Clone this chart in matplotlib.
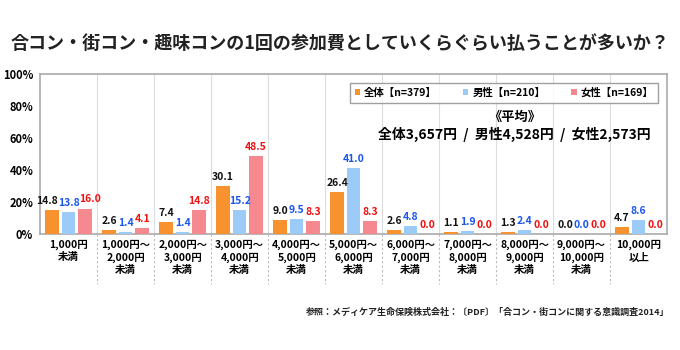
import numpy as np
import matplotlib.pyplot as plt
import matplotlib.transforms as mtransforms

plt.rcParams['font.family'] = ['Noto Sans CJK JP', 'DejaVu Sans']

# data
categories = ['1,000円\n未満', '1,000円～\n2,000円\n未満', '2,000円～\n3,000円\n未満',
              '3,000円～\n4,000円\n未満', '4,000円～\n5,000円\n未満', '5,000円～\n6,000円\n未満',
              '6,000円～\n7,000円\n未満', '7,000円～\n8,000円\n未満', '8,000円～\n9,000円\n未満',
              '9,000円～\n10,000円\n未満', '10,000円\n以上']
total = [14.8, 2.6, 7.4, 30.1, 9.0, 26.4, 2.6, 1.1, 1.3, 0.0, 4.7]
male = [13.8, 1.4, 1.4, 15.2, 9.5, 41.0, 4.8, 1.9, 2.4, 0.0, 8.6]
female = [16.0, 4.1, 14.8, 48.5, 8.3, 8.3, 0.0, 0.0, 0.0, 0.0, 0.0]
series_names = ['全体【n=379】', '男性【n=210】', '女性【n=169】']

bar_colors = ['#F7922E', '#9DCBF7', '#F5898F']
text_colors = ['#111111', '#1a55f0', '#f01010']

fig = plt.figure(figsize=(6.8, 3.5), dpi=100)
ax = fig.add_axes([0.059, 0.331, 0.922, 0.458])

x = np.arange(len(categories))
w = 0.24
offs = [-0.29, 0.0, 0.29]
for k, (vals, off, c, tc, name) in enumerate(zip([total, male, female], offs, bar_colors,
                                                 text_colors, series_names)):
    bars = ax.bar(x + off, vals, width=w, color=c, label=name, zorder=3)
    for i, (b, v) in enumerate(zip(bars, vals)):
        nudge = 0.0
        # first group has three labels at nearly the same height: spread them a bit
        if i == 0:
            nudge = (k - 1) * 0.09
        ax.text(b.get_x() + b.get_width() / 2 + nudge, v + 2.5, f'{v:.1f}', ha='center',
                va='bottom', fontsize=7.5, fontweight='bold', color=tc, zorder=4)

ax.set_xlim(-0.5, len(categories) - 0.5)
ax.set_ylim(0, 100)
ax.set_yticks([0, 20, 40, 60, 80, 100])
ax.set_yticklabels([f'{t}%' for t in [0, 20, 40, 60, 80, 100]], fontsize=8, fontweight='bold')
ax.set_xticks(x)
ax.set_xticklabels(categories, fontsize=7.5, fontweight='bold', linespacing=1.25, va='top')
ax.tick_params(axis='x', length=0, pad=4)
ax.tick_params(axis='y', length=0, pad=5)

for s in ax.spines.values():
    s.set_color('#aaaaaa')
    s.set_linewidth(1.2)

# category separators
trans = mtransforms.blended_transform_factory(ax.transData, ax.transAxes)
for b in np.arange(0.5, len(categories) - 0.5, 1.0):
    ax.plot([b, b], [0, 1], color='#dddddd', lw=0.8, transform=trans, zorder=1)
for b in np.arange(0.5, len(categories) - 0.5, 1.0):
    ax.plot([b, b], [0, -0.31], color='#bbbbbb', lw=0.8, ls=(0, (2, 2)),
            transform=trans, clip_on=False)

leg = ax.legend(loc='upper right', bbox_to_anchor=(0.994, 0.975), ncol=3,
                prop={'weight': 'bold', 'size': 7.5}, handlelength=0.5, handleheight=0.5,
                columnspacing=2.5, handletextpad=0.4, fancybox=False, borderpad=0.45)
leg.get_frame().set_edgecolor('#888888')
leg.get_frame().set_linewidth(1.0)

ax.text(0.757, 0.73, '《平均》', transform=ax.transAxes, ha='center', va='center',
        fontsize=9.5, fontweight='bold')
ax.text(0.757, 0.625, '全体3,657円  /  男性4,528円  /  女性2,573円', transform=ax.transAxes,
        ha='center', va='center', fontsize=10, fontweight='bold')

fig.text(0.5, 0.877, '合コン・街コン・趣味コンの1回の参加費としていくらぐらい払うことが多いか？',
         ha='center', va='center', fontsize=13, fontweight='bold', color='#222222')
fig.text(0.985, 0.108, '参照：メディケア生命保険株式会社：〔PDF〕「合コン・街コンに関する意識調査2014」',
         ha='right', va='center', fontsize=6.5, fontweight='bold', color='#222222')

fig.savefig('out.png', dpi=100)
